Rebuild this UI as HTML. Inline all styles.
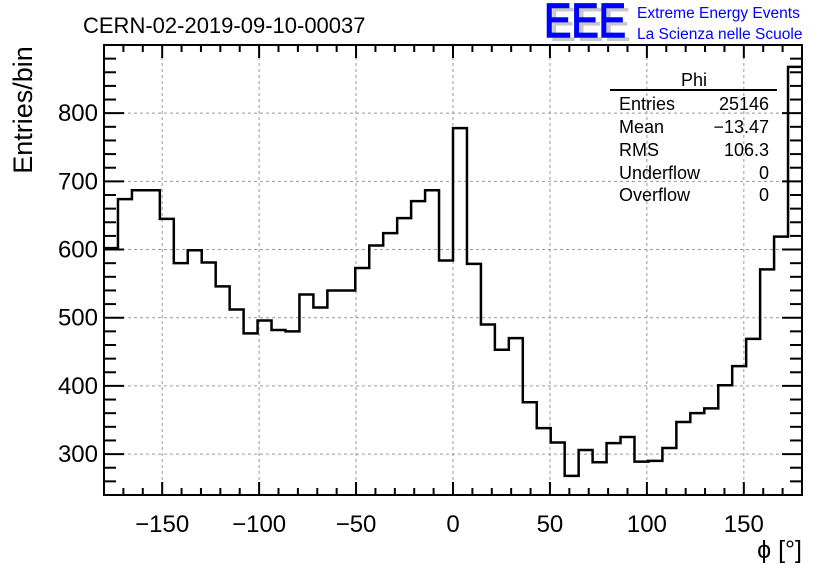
<!DOCTYPE html>
<html><head><meta charset="utf-8"><style>
html,body{margin:0;padding:0;background:#fff;}
svg{display:block;font-family:"Liberation Sans",sans-serif;}
</style></head><body>
<svg id="chart" width="836" height="572" viewBox="0 0 836 572">
<text x="83" y="33" font-size="22">CERN-02-2019-09-10-00037</text>
<g>
<text x="549" y="41" font-size="48" fill="#c8c8c8" textLength="82" lengthAdjust="spacingAndGlyphs">EEE</text>
<text x="544" y="37" font-size="48" fill="#0000ff" stroke="#0000ff" stroke-width="1.5" textLength="82" lengthAdjust="spacingAndGlyphs">EEE</text>
<text x="637" y="18" font-size="15.5" fill="#0000ff">Extreme Energy Events</text>
<text x="637" y="39" font-size="15.5" fill="#0000ff">La Scienza nelle Scuole</text>
</g>
<g id="grid"></g>
<g id="hist"></g>
<rect x="104" y="45" width="698" height="450" fill="none" stroke="#000" stroke-width="2"/>
<g id="axes"></g>
<text transform="translate(32,110) rotate(-90)" text-anchor="middle" font-size="27">Entries/bin</text>
<text x="802" y="558" text-anchor="end" font-size="25">ϕ [°]</text>
<g font-size="18">
<text x="694" y="86" text-anchor="middle">Phi</text>
<line x1="610" y1="90" x2="777" y2="90" stroke="#000" stroke-width="2"/>
<text x="619" y="110">Entries</text><text x="769" y="110" text-anchor="end">25146</text>
<text x="619" y="133">Mean</text><text x="769" y="133" text-anchor="end">−13.47</text>
<text x="619" y="156">RMS</text><text x="769" y="156" text-anchor="end">106.3</text>
<text x="619" y="179">Underflow</text><text x="769" y="179" text-anchor="end">0</text>
<text x="619" y="201">Overflow</text><text x="769" y="201" text-anchor="end">0</text>
</g>
</svg>
<script>
const binCounts = [602,674,687,687,645,580,599,581,546,512,477,496,482,480,534,515,540,540,573,606,624,646,671,687,584,778,579,490,453,470,376,338,317,268,306,288,316,325,289,290,309,347,360,367,401,429,469,571,619,868];
const xTicks = [-150,-100,-50,0,50,100,150];
const xTickLabels = ["−150","−100","−50","0","50","100","150"];
const yTicks = [300,400,500,600,700,800];
const yTickLabels = ["300","400","500","600","700","800"];
const X0=-180,X1=180,Y0=240,Y1=900;
const L=104,R=802,T=45,B=495;
const sx=v=>L+(v-X0)/(X1-X0)*(R-L);
const sy=v=>B-(v-Y0)/(Y1-Y0)*(B-T);
const NS="http://www.w3.org/2000/svg";
function mk(tag,attrs,parent){const e=document.createElementNS(NS,tag);for(const k in attrs)e.setAttribute(k,attrs[k]);parent.appendChild(e);return e;}
const grid=document.getElementById('grid'),axes=document.getElementById('axes'),hist=document.getElementById('hist');
xTicks.forEach((v,i)=>{
  const g=mk('line',{x1:sx(v),x2:sx(v),y1:T,y2:B,stroke:'#999','stroke-dasharray':'3,3','stroke-width':1},grid);
  
  
  const t=mk('text',{x:sx(v),y:532,'text-anchor':'middle','font-size':24},axes);
  t.textContent=xTickLabels[i];
  
  
});
yTicks.forEach((v,i)=>{
  const g=mk('line',{x1:L,x2:R,y1:sy(v),y2:sy(v),stroke:'#999','stroke-dasharray':'3,3','stroke-width':1},grid);
  
  
  const t=mk('text',{x:98,y:sy(v)+8,'text-anchor':'end','font-size':24},axes);
  t.textContent=yTickLabels[i];
  
  
});
for(let v=-170;v<=170;v+=10){
  const len=(v%50===0)?13:7;
  mk('line',{x1:sx(v),x2:sx(v),y1:B,y2:B-len,stroke:'#000','stroke-width':2},axes);
  mk('line',{x1:sx(v),x2:sx(v),y1:T,y2:T+len,stroke:'#000','stroke-width':2},axes);
}
for(let v=260;v<=900;v+=20){
  const len=(v%100===0)?20:12;
  mk('line',{x1:L,x2:L+len,y1:sy(v),y2:sy(v),stroke:'#000','stroke-width':2},axes);
  mk('line',{x1:R,x2:R-len,y1:sy(v),y2:sy(v),stroke:'#000','stroke-width':2},axes);
}
const w=(X1-X0)/binCounts.length;
let d='M'+sx(X0)+','+sy(binCounts[0]);
binCounts.forEach((c,i)=>{
  const a=X0+i*w,b=a+w;
  d+=' L'+sx(a)+','+sy(c)+' L'+sx(b)+','+sy(c);
});
const p=mk('path',{d:d,fill:'none',stroke:'#000','stroke-width':2.5},hist);


</script>
</body></html>
